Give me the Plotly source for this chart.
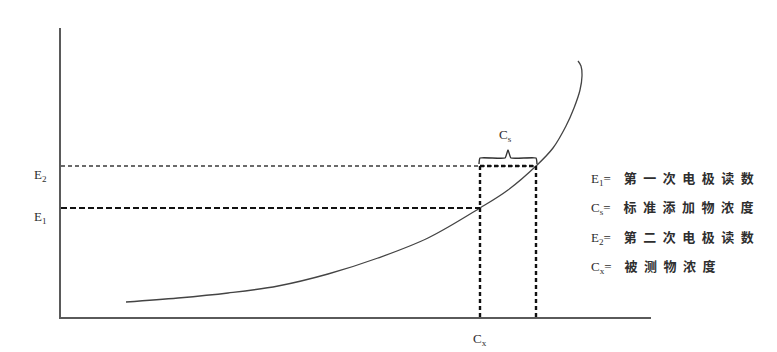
import plotly.graph_objects as go

# ---- data (abstract units: concentration on x, electrode reading on y) ----
curve_c = [65, 117, 167, 217, 267, 317, 367, 419, 447, 475, 492, 505, 513, 519, 521, 520, 517]
curve_e = [15, 19, 24, 31, 43, 59, 79, 109, 127, 151, 169, 191, 209, 227, 241, 251, 256]

E1 = 109          # first electrode reading
E2 = 151          # second electrode reading
C_X = 419         # analyte concentration
C_X_PLUS_S = 475  # after standard addition

legend_keys = ["E<sub>1</sub>=", "C<sub>s</sub>=", "E<sub>2</sub>=", "C<sub>x</sub>="]
legend_texts = ["第一次电极读数", "标准添加物浓度", "第二次电极读数", "被测物浓度"]
legend_levels = [138, 109, 79, 50]

X_RANGE = [0, 590]
Y_RANGE = [0, 289]

AX = "#5a5a5a"
TXT = "#2e2e2e"
SERIF = "Liberation Serif, DejaVu Serif, serif"
MIXED = "Liberation Serif, Noto Sans CJK SC, serif"

fig = go.Figure()

# curve
fig.add_trace(go.Scatter(x=curve_c, y=curve_e, mode="lines",
                         line=dict(color="#444444", width=1.3, shape="spline", smoothing=1.0),
                         hoverinfo="skip", showlegend=False))

# E2 horizontal (thin dashed)
fig.add_trace(go.Scatter(x=[X_RANGE[0], C_X_PLUS_S], y=[E2, E2], mode="lines",
                         line=dict(color="#3a3a3a", width=1.3, dash="4px,3px"),
                         hoverinfo="skip", showlegend=False))
# E1 horizontal (bold dashed)
fig.add_trace(go.Scatter(x=[X_RANGE[0], C_X], y=[E1, E1], mode="lines",
                         line=dict(color="#111111", width=2.2, dash="6px,3px"),
                         hoverinfo="skip", showlegend=False))
# bold dotted segment on E2 inside the box
fig.add_trace(go.Scatter(x=[C_X, C_X_PLUS_S], y=[E2, E2], mode="lines",
                         line=dict(color="#111111", width=2.4, dash="4px,3px"),
                         hoverinfo="skip", showlegend=False))
# vertical dotted drops
for cv in (C_X, C_X_PLUS_S):
    fig.add_trace(go.Scatter(x=[cv, cv], y=[Y_RANGE[0], E2], mode="lines",
                             line=dict(color="#111111", width=2.4, dash="4px,3px"),
                             hoverinfo="skip", showlegend=False))

# brace over C_s
mid = (C_X + C_X_PLUS_S) / 2
fig.add_trace(go.Scatter(
    x=[C_X - 1, C_X, mid - 3, mid, mid + 3, C_X_PLUS_S, C_X_PLUS_S + 1],
    y=[E2 + 2, E2 + 8, E2 + 8, E2 + 16, E2 + 8, E2 + 8, E2 + 2],
    mode="lines", line=dict(color="#333333", width=1.4, shape="spline", smoothing=0.4),
    hoverinfo="skip", showlegend=False))

annotations = []
# left labels
for lab, lv in (("E<sub>2</sub>", E2), ("E<sub>1</sub>", E1)):
    annotations.append(dict(x=-0.049, xref="paper", y=lv, yref="y", text=lab,
                            showarrow=False, yshift=-9,
                            font=dict(family=SERIF, size=13, color=TXT)))
# C_s above brace
annotations.append(dict(x=mid - 3, xref="x", y=E2 + 31, yref="y", text="C<sub>s</sub>",
                        showarrow=False, font=dict(family=SERIF, size=13, color=TXT)))
# C_x under axis
annotations.append(dict(x=C_X, xref="x", y=-0.114, yref="paper", text="C<sub>x</sub>",
                        showarrow=False, font=dict(family=SERIF, size=13, color=TXT)))
# key
for k, t, lv in zip(legend_keys, legend_texts, legend_levels):
    txt = k + "\u2003<b>" + "\u2002".join(t) + "</b>"
    annotations.append(dict(x=0.895, xref="paper", y=lv, yref="y", text=txt,
                            xanchor="left", showarrow=False,
                            font=dict(family=MIXED, size=13, color=TXT)))

fig.update_layout(
    width=777, height=352,
    margin=dict(l=53, r=134, t=20, b=43),
    paper_bgcolor="white", plot_bgcolor="white",
    xaxis=dict(range=X_RANGE, showline=True, linecolor=AX, linewidth=2,
               showticklabels=False, ticks="", showgrid=False, zeroline=False),
    yaxis=dict(range=Y_RANGE, showline=True, linecolor=AX, linewidth=2,
               showticklabels=False, ticks="", showgrid=False, zeroline=False),
    annotations=annotations,
    showlegend=False,
)

fig.write_html("out.html")
